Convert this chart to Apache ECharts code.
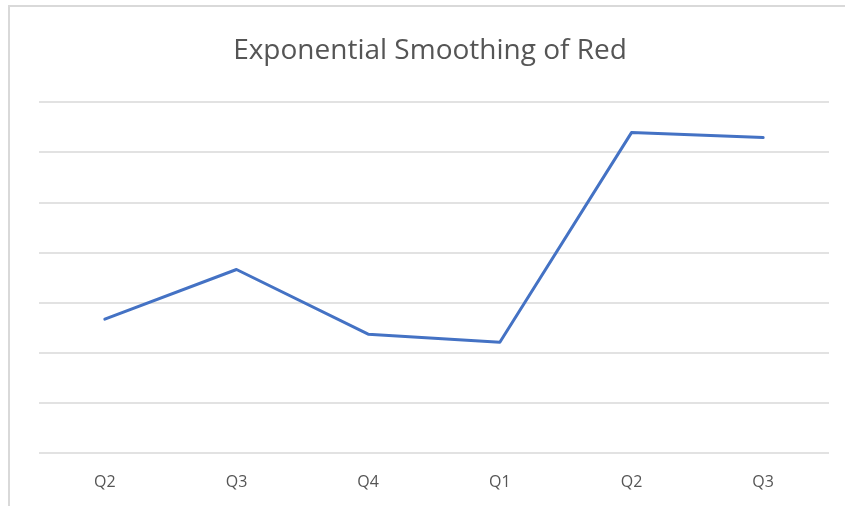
<!DOCTYPE html>
<html>
<head>
<meta charset="utf-8">
<script src="https://cdn.jsdelivr.net/npm/echarts@6/dist/echarts.min.js"></script>
<style>
  html, body { margin: 0; padding: 0; background: #ffffff; }
  #chart { width: 845px; height: 506px; }
</style>
</head>
<body>
<div id="chart"></div>
<script>
// Quarter labels along the horizontal axis
const categories = ['Q2', 'Q3', 'Q4', 'Q1', 'Q2', 'Q3'];
// Smoothed values for each quarter
const smoothed = [2.67, 3.66, 2.37, 2.21, 6.39, 6.29];
// Value axis range (unlabelled gridlines)
const yMin = 0;
const yMax = 7;
const yStep = 1;

const chart = echarts.init(document.getElementById('chart'), null, { renderer: 'canvas' });

chart.setOption({
  animation: false,
  backgroundColor: '#ffffff',
  graphic: [{
    type: 'rect',
    shape: { x: 9, y: 6, width: 900, height: 600 },
    style: { fill: 'none', stroke: '#d9d9d9', lineWidth: 2 },
    silent: true
  }],
  title: {
    text: 'Exponential Smoothing of Red',
    left: 425,
    top: 32,
    textAlign: 'center',
    textStyle: {
      fontFamily: 'Open Sans',
      fontSize: 28,
      fontWeight: 'normal',
      color: '#555555'
    }
  },
  grid: { left: 39, right: 16, top: 102, bottom: 53 },
  xAxis: {
    type: 'category',
    data: categories,
    boundaryGap: true,
    axisLine: { show: false },
    axisTick: { show: false },
    axisLabel: {
      fontFamily: 'Open Sans',
      fontSize: 16,
      color: '#555555',
      margin: 21
    }
  },
  yAxis: {
    type: 'value',
    min: yMin,
    max: yMax,
    interval: yStep,
    axisLabel: { show: false },
    axisLine: { show: false },
    axisTick: { show: false },
    splitLine: { lineStyle: { color: '#d9d9d9', width: 1.5 } }
  },
  series: [{
    type: 'line',
    data: smoothed,
    symbol: 'none',
    lineStyle: { color: '#4472c4', width: 3, cap: 'round', join: 'round' },
    itemStyle: { color: '#4472c4' }
  }]
});
</script>
</body>
</html>
